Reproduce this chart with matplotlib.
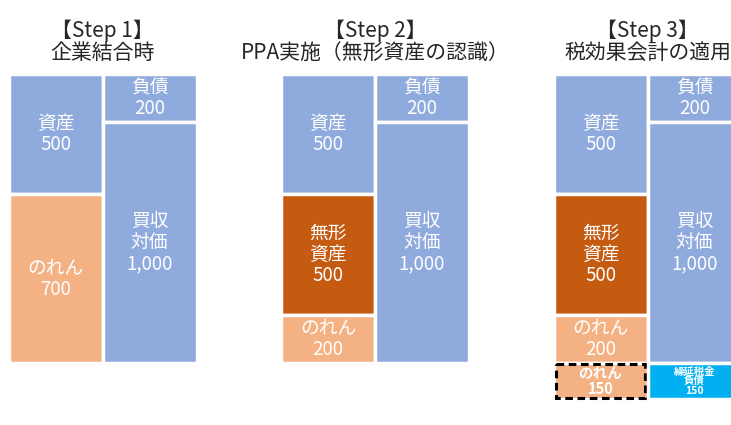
import matplotlib.pyplot as plt

plt.rcParams['font.family'] = ['Noto Sans CJK JP', 'DejaVu Sans']

# 各ステップの見出し
titles = ["【Step 1】\n企業結合時",
          "【Step 2】\nPPA実施（無形資産の認識）",
          "【Step 3】\n税効果会計の適用"]

# 借方（左列）
left_names = [["資産", "のれん"],
              ["資産", "無形\n資産", "のれん"],
              ["資産", "無形\n資産", "のれん"]]
left_values = [[500, 700],
               [500, 500, 200],
               [500, 500, 200]]

# 貸方（右列）
right_names = [["負債", "買収\n対価"],
               ["負債", "買収\n対価"],
               ["負債", "買収\n対価"]]
right_values = [[200, 1000],
                [200, 1000],
                [200, 1000]]

# Step 3 で追加される税効果部分
tax_names = ["のれん", "繰延税金\n負債"]
tax_values = [150, 150]

colors = {"資産": "#8FAADC", "負債": "#8FAADC", "買収\n対価": "#8FAADC",
          "のれん": "#F4B183", "無形\n資産": "#C55A11",
          "繰延税金\n負債": "#00B0F0"}

fig = plt.figure(figsize=(7.31, 4.25), dpi=100)
ax = fig.add_axes([0, 0, 1, 1])
px = 0.2408  # 1単位あたりのピクセル
ax.set_xlim(0, 731)
ax.set_ylim((425 - 74) / px, -74 / px)
ax.axis('off')

panel_x = [55.5, 328, 600.5]  # 左列の中心
col_w = 94


def block(x, bottom, name, value, **kw):
    ax.bar(x, value, width=col_w, bottom=bottom, align='center',
           color=colors[name], edgecolor='white', linewidth=2.5)
    ax.text(x, bottom + value / 2, f"{name}\n{value:,}", ha='center', va='center',
            color='white', **kw)


for i, title in enumerate(titles):
    ax.text(panel_x[i] + col_w / 2, (42 - 74) / px, title, ha='center', va='center',
            fontsize=15, color='#262626', linespacing=1.0)
    for side, names, values in ((0, left_names[i], left_values[i]),
                                (1, right_names[i], right_values[i])):
        x = panel_x[i] + side * col_w
        bottom = 0
        for name, v in zip(names, values):
            block(x, bottom, name, v, fontsize=13.5, linespacing=1.0)
            bottom += v

# 税効果：のれんの増加と繰延税金負債
base = sum(left_values[2])
x0 = panel_x[2]
block(x0, base, tax_names[0], tax_values[0], fontsize=10.5, fontweight='bold',
      linespacing=0.95)
ax.bar(x0, tax_values[0] - 3 / px, width=col_w - 5, bottom=base + 1.5 / px,
       fill=False, edgecolor='black', linewidth=2.2, linestyle=(0, (2.5, 1.5)))
block(x0 + col_w, base, tax_names[1], tax_values[1], fontsize=7.5,
      fontweight='bold', linespacing=0.95)

fig.savefig("out.png", dpi=100)
